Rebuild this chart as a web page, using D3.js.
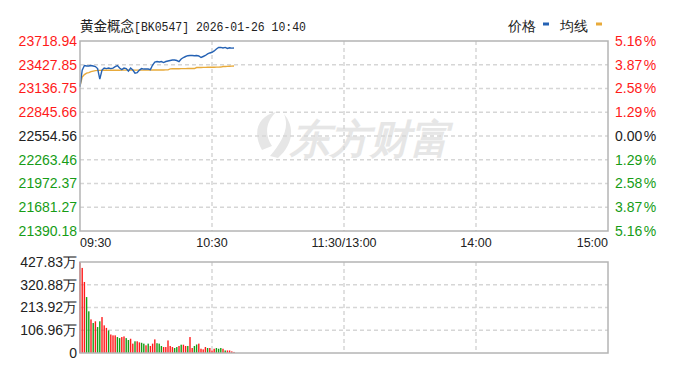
<!DOCTYPE html>
<html>
<head>
<meta charset="utf-8">
<script src="https://cdn.jsdelivr.net/npm/d3@7"></script>
<style>
  body { margin: 0; background: #fff; }
  svg { display: block; }
  text { font-family: "Liberation Sans", Arial, sans-serif; }
</style>
</head>
<body>
<svg id="chart" width="673" height="365"></svg>
<script>
// price axis ticks (left) and percent ticks (right)
var priceTicks = [23718.94, 23427.85, 23136.75, 22845.66, 22554.56, 22263.46, 21972.37, 21681.27, 21390.18];
var pctTicks = ["5.16", "3.87", "2.58", "1.29", "0.00", "1.29", "2.58", "3.87", "5.16"];
var volTicks = [427.83, 320.88, 213.92, 106.96, 0];
var volTickLabels = ["427.83万", "320.88万", "213.92万", "106.96万", "0"];
var timeTicks = [0, 60, 120, 180, 240];
var timeLabels = ["09:30", "10:30", "11:30/13:00", "14:00", "15:00"];
var preClose = 22554.56;

// minute data 09:30 .. 10:40
var prices = [
  23156.5, 23362.5, 23418.0, 23411.9, 23411.9, 23418.0, 23411.9, 23405.7, 23381.0, 23251.5,
  23362.5, 23387.2, 23381.0, 23387.2, 23381.0, 23387.2, 23405.7, 23418.0, 23387.2, 23368.7,
  23387.2, 23381.0, 23350.2, 23387.2, 23362.5, 23325.5, 23331.7, 23362.5, 23381.0, 23374.9,
  23374.9, 23374.9, 23368.7, 23424.2, 23461.2, 23467.4, 23461.2, 23467.4, 23455.1, 23467.4,
  23473.5, 23479.7, 23485.9, 23485.9, 23479.7, 23467.4, 23498.2, 23516.7, 23529.0, 23538.9,
  23541.4, 23541.4, 23538.9, 23541.4, 23535.2, 23516.7, 23529.0, 23541.4, 23559.8, 23572.2,
  23580.8, 23596.9, 23621.5, 23640.0, 23640.0, 23633.9, 23640.0, 23627.7, 23636.3, 23631.4,
  23633.9
];
var avgPrices = [
  23165.2, 23276.2, 23307.0, 23325.5, 23331.7, 23344.0, 23350.2, 23356.3, 23358.8, 23359.0,
  23359.5, 23360.0, 23360.0, 23360.0, 23360.5, 23360.5, 23361.0, 23361.0, 23361.0, 23361.5,
  23361.5, 23362.0, 23362.0, 23362.0, 23362.0, 23362.0, 23362.5, 23362.5, 23362.5, 23362.5,
  23362.5, 23362.5, 23362.5, 23363.0, 23363.0, 23363.5, 23363.5, 23364.0, 23364.0, 23364.5,
  23365.0, 23377.3, 23378.0, 23378.5, 23379.0, 23379.5, 23380.0, 23380.0, 23380.5, 23381.0,
  23381.0, 23381.0, 23381.5, 23393.4, 23394.0, 23395.0, 23395.5, 23396.0, 23396.5, 23397.0,
  23397.5, 23398.0, 23398.5, 23399.0, 23399.5, 23405.7, 23407.0, 23408.5, 23410.0, 23411.0,
  23411.9
];
// volume in 万, and up(1)/down(0) per minute
var volumes = [
  427.83, 400, 334, 263, 196, 158, 141, 149, 122, 149,
  169, 130, 118, 106, 87, 83, 83, 75, 70, 75,
  78, 70, 61, 67, 44, 55, 55, 50, 48, 44,
  36, 44, 33, 44, 64, 46, 44, 33, 28, 28,
  59, 33, 28, 23.5, 28, 33, 39, 39, 33, 33,
  75, 23.5, 33, 40, 44, 20, 17, 28, 23.5, 23.5,
  12, 20, 23.5, 20, 23.5, 20, 12, 12, 12, 7.5,
  5
];
var volUp = [
  1, 1, 1, 0, 0, 1, 0, 1, 0, 0,
  1, 1, 1, 0, 1, 1, 1, 0, 0, 1,
  1, 0, 0, 1, 1, 0, 1, 1, 0, 0,
  1, 0, 1, 1, 1, 0, 0, 0, 1, 1,
  1, 1, 1, 0, 0, 1, 0, 1, 1, 0,
  1, 1, 0, 0, 1, 1, 1, 1, 0, 1,
  1, 1, 0, 0, 0, 1, 0, 1, 1, 1,
  1
];

var svg = d3.select("#chart");
var box = { left: 80, right: 608, top: 41, bottom: 231 };
var vbox = { top: 262, bottom: 353 };

var x = d3.scaleLinear().domain([0, 240]).range([box.left, box.right]);
var y = d3.scaleLinear().domain([priceTicks[8], priceTicks[0]]).range([box.bottom, box.top]);
var yv = d3.scaleLinear().domain([0, volTicks[0]]).range([vbox.bottom, vbox.top]);

var red = "#ff1a1a", green = "#169c16", gridColor = "#d6d6d6";

// watermark
var wm = svg.append("g").attr("fill", "#e9e9e9");
wm.append("path")
  .attr("d", "M262,150 C252,132 258,116 276,112 C266,122 264,134 272,146 Z M270,156 C282,142 290,128 284,114 C296,128 292,146 278,158 Z")
  .attr("fill", "#e6e6e6");
wm.append("text")
  .attr("x", 290).attr("y", 153)
  .attr("font-family", "Noto Sans CJK SC")
  .attr("font-size", 40)
  .attr("font-weight", "bold")
  .attr("font-style", "italic")
  .attr("fill", "#e6e6e6")
  .text("东方财富");

// gridlines
function grid(g, yTop, yBottom, yVals, ys) {
  g.selectAll(".h").data(yVals).enter().append("line")
    .attr("x1", box.left).attr("x2", box.right)
    .attr("y1", d => ys(d)).attr("y2", d => ys(d))
    .attr("stroke", gridColor).attr("stroke-width", 1.5).attr("stroke-dasharray", "4,3");
  g.selectAll(".v").data(timeTicks.slice(1, 4)).enter().append("line")
    .attr("x1", d => x(d)).attr("x2", d => x(d))
    .attr("y1", yTop).attr("y2", yBottom)
    .attr("stroke", gridColor).attr("stroke-width", 1.5).attr("stroke-dasharray", "4,3");
}
grid(svg.append("g"), box.top, box.bottom, priceTicks.slice(1, 8), y);
grid(svg.append("g"), vbox.top, vbox.bottom, volTicks.slice(1, 4), yv);

// volume bars
svg.append("g").selectAll("rect")
  .data(volumes)
  .enter()
  .append("rect")
    .attr("x", (d, i) => x(i) - 0.7)
    .attr("width", 1.4)
    .attr("y", d => yv(d))
    .attr("height", d => yv(0) - yv(d))
    .attr("fill", (d, i) => volUp[i] ? red : green);

// lines
var line = d3.line().x((d, i) => x(i)).y(d => y(d));
svg.append("path").datum(avgPrices)
  .attr("d", line).attr("fill", "none")
  .attr("stroke", "#e8aa3a").attr("stroke-width", 1.4);
svg.append("path").datum(prices)
  .attr("d", line).attr("fill", "none")
  .attr("stroke", "#2562b4").attr("stroke-width", 1.4);

// frames
svg.append("rect")
  .attr("x", box.left).attr("y", box.top)
  .attr("width", box.right - box.left).attr("height", box.bottom - box.top)
  .attr("fill", "none").attr("stroke", "#b4b4b4").attr("stroke-width", 1.5);
svg.append("rect")
  .attr("x", box.left).attr("y", vbox.top)
  .attr("width", box.right - box.left).attr("height", vbox.bottom - vbox.top)
  .attr("fill", "none").attr("stroke", "#b4b4b4").attr("stroke-width", 1.5);

function tickColor(i) { return i < 4 ? red : (i === 4 ? "#222" : green); }

// left price labels
svg.append("g").selectAll("text")
  .data(priceTicks).enter().append("text")
    .attr("x", 77).attr("y", d => y(d)).attr("dy", "0.35em")
    .attr("text-anchor", "end").attr("font-size", 14)
    .attr("fill", (d, i) => tickColor(i))
    .text(d => d.toFixed(2));

// right percent labels
var right = svg.append("g").selectAll("text")
  .data(pctTicks).enter().append("text")
    .attr("x", 615).attr("y", (d, i) => y(priceTicks[i])).attr("dy", "0.35em")
    .attr("font-size", 14)
    .attr("fill", (d, i) => tickColor(i));
right.append("tspan").text(d => d);
right.append("tspan").attr("dx", 1.5).text("%");

// volume labels
svg.append("g").selectAll("text")
  .data(volTicks).enter().append("text")
    .attr("x", 77).attr("y", d => yv(d)).attr("dy", "0.35em")
    .attr("text-anchor", "end").attr("font-size", 14)
    .attr("fill", "#222")
    .text((d, i) => volTickLabels[i]);

// time labels
svg.append("g").selectAll("text")
  .data(timeTicks).enter().append("text")
    .attr("x", d => x(d)).attr("y", 247)
    .attr("text-anchor", (d, i) => i === 0 ? "start" : (i === 4 ? "end" : "middle"))
    .attr("font-family", "Liberation Mono, monospace")
    .attr("font-size", 12.5)
    .attr("fill", "#222")
    .text((d, i) => timeLabels[i]);

// title
var title = svg.append("text").attr("x", 80).attr("y", 31).attr("fill", "#222");
title.append("tspan")
  .attr("font-family", "Noto Sans CJK SC").attr("font-size", 13.5)
  .text("黄金概念");
title.append("tspan")
  .attr("font-family", "Liberation Mono, monospace").attr("font-size", 13)
  .attr("textLength", 172).attr("lengthAdjust", "spacingAndGlyphs")
  .text("[BK0547] 2026-01-26 10:40");

// legend
var legend = svg.append("g").attr("font-family", "Noto Sans CJK SC").attr("font-size", 13.5).attr("fill", "#222");
legend.append("text").attr("x", 508).attr("y", 31).text("价格");
legend.append("rect").attr("x", 543).attr("y", 22.5).attr("width", 6).attr("height", 3).attr("fill", "#2562b4");
legend.append("text").attr("x", 560).attr("y", 31).text("均线");
legend.append("rect").attr("x", 596).attr("y", 22.5).attr("width", 6).attr("height", 3).attr("fill", "#e8aa3a");
</script>
</body>
</html>
